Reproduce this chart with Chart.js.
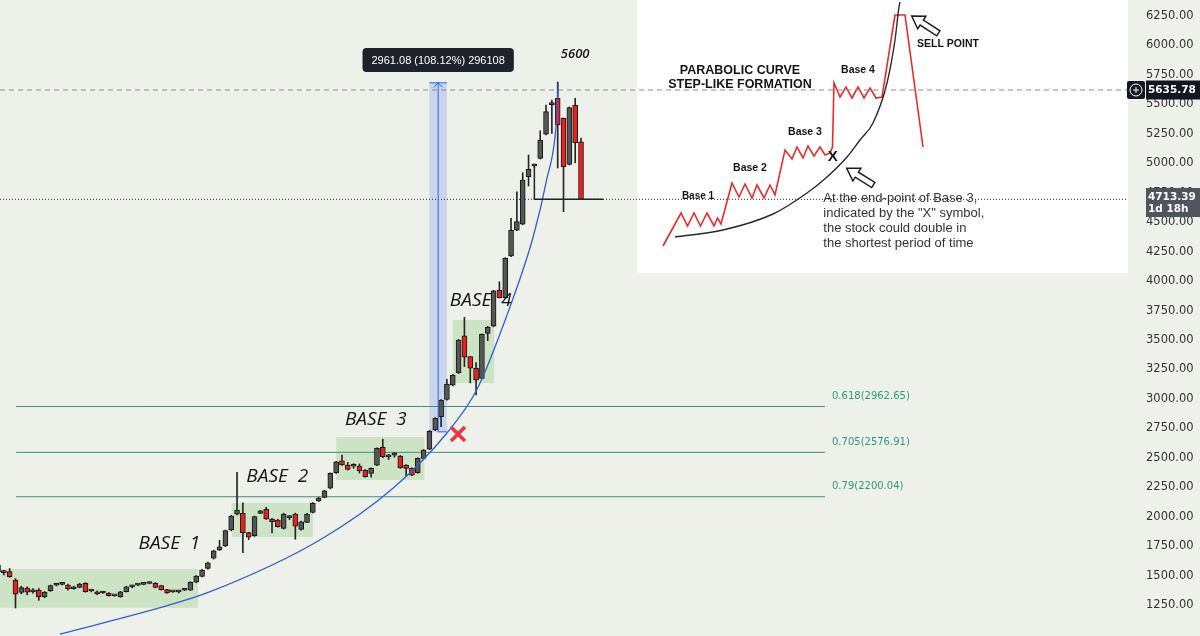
<!DOCTYPE html>
<html>
<head>
<meta charset="utf-8">
<script src="https://cdn.jsdelivr.net/npm/chart.js@4.4.1/dist/chart.umd.min.js"></script>
<style>
  html, body { margin: 0; padding: 0; background: #eef1ea; }
  #wrap { position: relative; width: 1200px; height: 636px; overflow: hidden; }
  #inset { position: absolute; left: 637px; top: 0; width: 491px; height: 273px; background: #fff; }
  #main { position: absolute; left: 0; top: 0; }
</style>
</head>
<body>
<div id="wrap">
  <div id="inset"><canvas id="insetChart" width="491" height="273"></canvas></div>
  <canvas id="main" width="1200" height="636"></canvas>
</div>
<script>
// candles, one per bar index
const opens  = [1530,1525,1533,1462,1358,1394,1362,1377,1318,1371,1418,1425,1420,1388,1400,1434,1372,1363,1352,1349,
                1327,1320,1363,1404,1419,1425,1433,1434,1414,1380,1361,1362,1375,1377,1443,1492,1561,1647,1717,1751,
                1887,2022,2028,1864,1838,2028,2062,1980,1972,1901,1992,2022,1892,1952,2037,2133,2164,2241,2373,2475,
                2438,2428,2430,2396,2368,2438,2589,2507,2522,2515,2438,2410,2373,2495,2572,2736,2848,2996,3117,3222,
                3536,3358,3260,3174,3556,3618,3924,3859,4213,4433,4484,4886,4977,5042,5246,5498,5551,5382,4991,5494,5183];
const highs  = [1600,1545,1560,1475,1410,1405,1390,1390,1365,1420,1430,1436,1428,1410,1435,1440,1378,1370,1365,1356,
                1334,1366,1410,1420,1428,1433,1448,1440,1418,1384,1368,1375,1385,1448,1500,1552,1615,1716,1800,1886,
                2012,2376,2118,1868,2005,2054,2080,1985,1978,2030,2010,2030,1962,2028,2120,2165,2225,2372,2470,2523,
                2460,2450,2448,2400,2415,2585,2657,2530,2545,2520,2442,2414,2500,2570,2732,2840,2995,3166,3208,3505,
                3692,3362,3307,3552,3615,3922,3994,4198,4533,4758,4920,5070,4995,5276,5494,5537,5690,5385,5478,5551,5214];
const lows   = [1520,1505,1485,1225,1345,1335,1350,1290,1312,1365,1412,1420,1375,1384,1396,1358,1362,1338,1348,1325,
                1324,1316,1360,1395,1415,1422,1430,1396,1376,1348,1358,1352,1372,1374,1440,1488,1555,1640,1712,1746,
                1880,2015,1694,1805,1832,2025,1976,1862,1910,1895,1975,1808,1886,1948,2032,2128,2160,2236,2368,2435,
                2395,2410,2370,2335,2336,2432,2500,2485,2505,2410,2345,2348,2368,2490,2568,2730,2764,2990,3112,3216,
                3273,3135,3033,3168,3494,3612,3855,3853,4208,4428,4478,4807,4965,5036,5240,5254,4960,4589,4985,5004,4694];
const closes = [1590,1528,1490,1343,1397,1360,1378,1318,1360,1414,1422,1428,1388,1405,1428,1363,1369,1345,1355,1330,
                1330,1363,1405,1407,1422,1428,1436,1400,1380,1352,1364,1365,1378,1443,1496,1547,1609,1711,1745,1881,
                2006,2056,1864,1825,2000,2050,1980,1958,1915,2022,1996,1920,1957,2022,2113,2158,2220,2368,2466,2440,
                2402,2432,2388,2340,2410,2580,2510,2511,2525,2415,2410,2353,2495,2566,2727,2835,2990,3126,3202,3500,
                3353,3260,3160,3548,3607,3918,3860,4193,4433,4504,4858,4949,4981,5197,5438,5502,5325,4971,5472,5174,4694];

const yTicks = [1250,1500,1750,2000,2250,2500,2750,3000,3250,3500,3750,4000,4250,4500,4750,5000,5250,5500,5750,6000,6250];

// fibonacci retracement levels
const fibLevels = [2935, 2546, 2169];
const fibLabels = ['0.618(2962.65)', '0.705(2576.91)', '0.79(2200.04)'];
const fibFrom = 3.1, fibTo = 141.85;

// consolidation boxes: from bar, to bar, low, high
const baseFrom = [0.34, 40.1, 58, 78];
const baseTo   = [34.3, 54.0, 73.1, 85.1];
const baseLow  = [1227, 1827, 2311, 3135];
const baseHigh = [1556, 2116, 2676, 3669];
const baseNames = ['BASE  1', 'BASE  2', 'BASE  3', 'BASE  4'];
const baseNameAt = [29.4, 47.9, 64.8, 82.8];
const baseNameVal = [1768, 2341, 2820, 3831];

// hand drawn parabola
const curveX = [10.6, 27.8, 36.4, 55.2, 67.8, 77, 82.1, 87.2, 91.8, 94.1, 95.8, 96.1];
const curveY = [1003, 1227, 1363, 1802, 2243, 2710, 3075, 3697, 4376, 4858, 5367, 5681];

// measure tool
const measureFrom = 74, measureTo = 77, measureAt = 75.5;
const measureLow = 2716, measureHigh = 5687;
const measureText = '2961.08 (108.12%) 296108';

// price lines
const markPrice = 5622, markText = '5635.78';
const lastPrice = 4694, lastText = '4713.39', lastSub = '1d 18h';
const holdX = [92, 92, 103.8];
const holdY = [4979, 4694, 4694];

const xMin = 0.343, xMax = 193.65;
const yMin = 987, yMax = 6386;

const idx = opens.map((_, i) => i);

function lineSet(points, color, width, dash, order) {
  return {
    type: 'line', data: points, borderColor: color, borderWidth: width,
    borderDash: dash || [], pointRadius: 0, fill: false, tension: 0, order
  };
}

function roundRect(ctx, x, y, w, h, r) {
  ctx.beginPath();
  ctx.moveTo(x + r, y);
  ctx.arcTo(x + w, y, x + w, y + h, r);
  ctx.arcTo(x + w, y + h, x, y + h, r);
  ctx.arcTo(x, y + h, x, y, r);
  ctx.arcTo(x, y, x + w, y, r);
  ctx.closePath();
}

const mainDecor = {
  id: 'mainDecor',
  beforeDatasetsDraw(chart) {
    const {ctx, scales: {x, y}} = chart;
    ctx.save();
    ctx.fillStyle = 'rgba(140,200,125,0.35)';
    baseFrom.forEach((b, i) => {
      const l = x.getPixelForValue(b), r = x.getPixelForValue(baseTo[i]);
      const t = y.getPixelForValue(baseHigh[i]), bt = y.getPixelForValue(baseLow[i]);
      ctx.fillRect(l, t, r - l, bt - t);
    });
    const ml = x.getPixelForValue(measureFrom), mr = x.getPixelForValue(measureTo);
    const mt = y.getPixelForValue(measureHigh), mb = y.getPixelForValue(measureLow);
    ctx.fillStyle = 'rgba(120,150,235,0.3)';
    ctx.fillRect(ml, mt, mr - ml, mb - mt);
    ctx.restore();
  },
  afterDatasetsDraw(chart) {
    const {ctx, scales: {x, y}} = chart;
    ctx.save();
    // base captions
    ctx.fillStyle = '#141414';
    ctx.font = 'italic 500 19px "Open Sans"';
    ctx.textAlign = 'center';
    ctx.textBaseline = 'middle';
    baseNames.forEach((t, i) => ctx.fillText(t, x.getPixelForValue(baseNameAt[i]), y.getPixelForValue(baseNameVal[i])));
    ctx.font = 'italic 600 13px "Open Sans"';
    ctx.fillText('5600', x.getPixelForValue(99), y.getPixelForValue(5927));

    // fib captions
    ctx.font = '10px "DejaVu Sans"';
    ctx.textAlign = 'left';
    ctx.fillStyle = '#2a9a83';
    fibLevels.forEach((v, i) => ctx.fillText(fibLabels[i], x.getPixelForValue(fibTo) + 7, y.getPixelForValue(v) - 10));

    // red cross at end of base 3
    const cx = x.getPixelForValue(78.9), cy = y.getPixelForValue(2702);
    ctx.strokeStyle = '#ef3446';
    ctx.lineWidth = 3.5;
    ctx.beginPath();
    ctx.moveTo(cx - 7, cy - 7); ctx.lineTo(cx + 7, cy + 7);
    ctx.moveTo(cx + 7, cy - 7); ctx.lineTo(cx - 7, cy + 7);
    ctx.stroke();

    // measure arrow head and caps
    const ma = x.getPixelForValue(measureAt), mt = y.getPixelForValue(measureHigh), mb = y.getPixelForValue(measureLow);
    const ml = x.getPixelForValue(measureFrom), mr = x.getPixelForValue(measureTo);
    ctx.strokeStyle = '#2962ff';
    ctx.lineWidth = 1;
    ctx.beginPath();
    ctx.moveTo(ml, mt + 0.5); ctx.lineTo(mr, mt + 0.5);
    ctx.moveTo(ma - 4.5, mt + 5); ctx.lineTo(ma, mt + 0.5); ctx.lineTo(ma + 4.5, mt + 5);
    ctx.moveTo(ma, mb - 0.5); ctx.lineTo(mr, mb - 0.5);
    ctx.stroke();

    // measure caption
    ctx.font = '11px "Liberation Sans"';
    const w = ctx.measureText(measureText).width + 18;
    const ly = y.getPixelForValue(5876);
    ctx.fillStyle = '#1e222d';
    roundRect(ctx, ma - w / 2, ly - 12, w, 24, 4);
    ctx.fill();
    ctx.fillStyle = '#ffffff';
    ctx.textAlign = 'center';
    ctx.fillText(measureText, ma, ly + 0.5);
    ctx.restore();
  },
  afterDraw(chart) {
    const {ctx, scales: {y}, chartArea} = chart;
    ctx.save();
    const right = chartArea.right;
    // mark price label
    const my = Math.round(y.getPixelForValue(markPrice));
    ctx.fillStyle = '#131722';
    roundRect(ctx, right, my - 9, 18, 18, 2);
    ctx.fill();
    ctx.fillRect(right + 19, my - 9.5, 1200 - right - 19, 19);
    ctx.strokeStyle = '#ffffff';
    ctx.lineWidth = 1;
    ctx.beginPath();
    ctx.arc(right + 9, my, 6, 0, Math.PI * 2);
    ctx.moveTo(right + 6, my); ctx.lineTo(right + 12, my);
    ctx.moveTo(right + 9, my - 3); ctx.lineTo(right + 9, my + 3);
    ctx.stroke();
    ctx.fillStyle = '#ffffff';
    ctx.font = 'bold 10.5px "DejaVu Sans"';
    ctx.textAlign = 'left';
    ctx.textBaseline = 'middle';
    ctx.fillText(markText, right + 21, my + 0.5);

    // last price label
    const py = Math.round(y.getPixelForValue(lastPrice));
    ctx.fillStyle = '#50545f';
    ctx.fillRect(right + 19, py - 11, 1200 - right - 19, 29);
    ctx.fillStyle = '#ffffff';
    ctx.fillText(lastText, right + 21, py - 2);
    ctx.fillText(lastSub, right + 21, py + 10);
    ctx.restore();
  }
};

const fibSets = fibLevels.map(v => lineSet([{x: fibFrom, y: v}, {x: fibTo, y: v}], '#3d8f7c', 1, [], 6));

new Chart(document.getElementById('main'), {
  type: 'bar',
  data: {
    datasets: [
      ...fibSets,
      lineSet([{x: xMin, y: markPrice}, {x: xMax, y: markPrice}], '#8a8a8a', 1, [5, 4], 6),
      lineSet([{x: xMin, y: lastPrice}, {x: xMax, y: lastPrice}], '#2b2b2b', 1, [1, 2], 6),
      {
        type: 'bar',
        data: idx.map(i => ({x: i, y: [lows[i], highs[i]]})),
        backgroundColor: '#262626',
        barThickness: 1,
        grouped: false,
        order: 4
      },
      {
        type: 'bar',
        data: idx.map(i => ({x: i, y: [opens[i], closes[i]]})),
        backgroundColor: ctx => closes[ctx.dataIndex] >= opens[ctx.dataIndex] ? '#565656' : '#e8231f',
        borderColor: '#161616',
        borderWidth: 1,
        borderSkipped: false,
        barThickness: 5,
        minBarLength: 2,
        grouped: false,
        order: 3
      },
      Object.assign(lineSet(curveX.map((v, i) => ({x: v, y: curveY[i]})), '#2f5fd6', 1.3, [], 2),
                    {cubicInterpolationMode: 'monotone'}),
      lineSet([{x: measureAt, y: measureLow}, {x: measureAt, y: measureHigh}], '#2962ff', 1, [], 1),
      lineSet(holdX.map((v, i) => ({x: v, y: holdY[i]})), '#222222', 1.5, [], 1)
    ]
  },
  options: {
    responsive: false,
    animation: false,
    events: [],
    layout: {padding: 0},
    plugins: {legend: {display: false}, tooltip: {enabled: false}},
    scales: {
      x: {type: 'linear', display: false, min: xMin, max: xMax, offset: false},
      y: {
        type: 'linear',
        position: 'right',
        min: yMin,
        max: yMax,
        beginAtZero: false,
        grid: {display: false, drawTicks: false},
        border: {display: false},
        afterBuildTicks: scale => { scale.ticks = yTicks.map(v => ({value: v})); },
        afterFit: scale => { scale.width = 73; scale.paddingTop = 0; scale.paddingBottom = 0; },
        ticks: {
          padding: 19,
          color: '#333333',
          font: {family: 'DejaVu Sans', size: 11.5},
          callback: v => Number(v).toFixed(2)
        }
      }
    }
  },
  plugins: [mainDecor]
});

// ----- inset illustration (own coordinate box, 491 x 273) -----
const stepX = [26, 44, 50.5, 57, 63.5, 70, 77, 80.5, 84, 95, 102, 108, 115, 120, 127, 133, 138, 148,
               155, 160, 166, 171, 177, 183, 188, 193, 195.5, 197, 203, 209, 215, 221, 227, 233, 239, 245, 258, 268, 286];
const stepY = [246, 213, 226, 213, 226, 213, 226, 218, 224, 183, 197, 184, 198, 185, 198, 185, 195, 150,
               159, 147, 158, 146, 156, 147, 155, 153, 147, 83, 97, 87, 98, 87, 98, 88, 98, 97, 15, 15, 147];
const arcX = [38, 86, 136, 170, 190, 210, 223, 236, 250, 258, 262, 263];
const arcY = [237, 230, 214, 193, 177, 157, 140, 123, 83, 40, 7, 2];

const insetText = [
  ['PARABOLIC CURVE', 103, 70.5, 'bold 12.5px "Liberation Sans"'],
  ['STEP-LIKE FORMATION', 103, 85, 'bold 12.5px "Liberation Sans"'],
  ['Base 4', 221, 70.5, 'bold 10.5px "Liberation Sans"'],
  ['Base 3', 168, 132.5, 'bold 10.5px "Liberation Sans"'],
  ['Base 2', 113, 168.5, 'bold 10.5px "Liberation Sans"'],
  ['Base 1', 61, 196.5, 'bold 10px "Liberation Sans"'],
  ['SELL POINT', 311, 44.5, 'bold 10.5px "Liberation Sans"'],
  ['X', 195.7, 156.7, 'bold 15px "Liberation Sans"']
];
const noteLines = ['At the end-point of Base 3,', 'indicated by the "X" symbol,', 'the stock could double in', 'the shortest period of time'];
const arrowTips = [[274.7, 16], [209.7, 168.3]];
const arrowTails = [[301.3, 33.3], [236.3, 185]];

function hollowArrow(ctx, tx, ty, sx, sy) {
  const len = Math.hypot(tx - sx, ty - sy);
  const ux = (tx - sx) / len, uy = (ty - sy) / len;
  const nx = -uy, ny = ux;
  const hl = 12, hw = 7.5, sw = 3;
  const bx = tx - ux * hl, by = ty - uy * hl;
  ctx.beginPath();
  ctx.moveTo(tx, ty);
  ctx.lineTo(bx + nx * hw, by + ny * hw);
  ctx.lineTo(bx + nx * sw, by + ny * sw);
  ctx.lineTo(sx + nx * sw, sy + ny * sw);
  ctx.lineTo(sx - nx * sw, sy - ny * sw);
  ctx.lineTo(bx - nx * sw, by - ny * sw);
  ctx.lineTo(bx - nx * hw, by - ny * hw);
  ctx.closePath();
  ctx.fillStyle = '#ffffff';
  ctx.fill();
  ctx.strokeStyle = '#1e1e1e';
  ctx.lineWidth = 1.5;
  ctx.stroke();
}

const insetDecor = {
  id: 'insetDecor',
  afterDatasetsDraw(chart) {
    const {ctx, scales: {x, y}} = chart;
    ctx.save();
    ctx.fillStyle = '#141414';
    ctx.textAlign = 'center';
    ctx.textBaseline = 'middle';
    insetText.forEach(t => {
      ctx.font = t[3];
      ctx.fillText(t[0], x.getPixelForValue(t[1]), y.getPixelForValue(t[2]));
    });
    ctx.font = '13px "Liberation Sans"';
    ctx.fillStyle = '#333333';
    ctx.textAlign = 'left';
    noteLines.forEach((t, i) => ctx.fillText(t, x.getPixelForValue(186.3), y.getPixelForValue(198.3 + i * 15)));
    arrowTips.forEach((p, i) => hollowArrow(ctx,
      x.getPixelForValue(p[0]), y.getPixelForValue(p[1]),
      x.getPixelForValue(arrowTails[i][0]), y.getPixelForValue(arrowTails[i][1])));
    ctx.restore();
  }
};

new Chart(document.getElementById('insetChart'), {
  type: 'line',
  data: {
    datasets: [
      {data: arcX.map((v, i) => ({x: v, y: arcY[i]})), borderColor: '#2a2a2a', borderWidth: 1.4,
       pointRadius: 0, cubicInterpolationMode: 'monotone'},
      {data: stepX.map((v, i) => ({x: v, y: stepY[i]})), borderColor: '#ec2a2a', borderWidth: 1.6,
       pointRadius: 0, tension: 0}
    ]
  },
  options: {
    responsive: false,
    animation: false,
    events: [],
    layout: {padding: 0},
    plugins: {legend: {display: false}, tooltip: {enabled: false}},
    scales: {
      x: {type: 'linear', display: false, min: 0, max: 491},
      y: {type: 'linear', display: false, min: 0, max: 273, reverse: true}
    }
  },
  plugins: [insetDecor]
});
</script>
</body>
</html>
